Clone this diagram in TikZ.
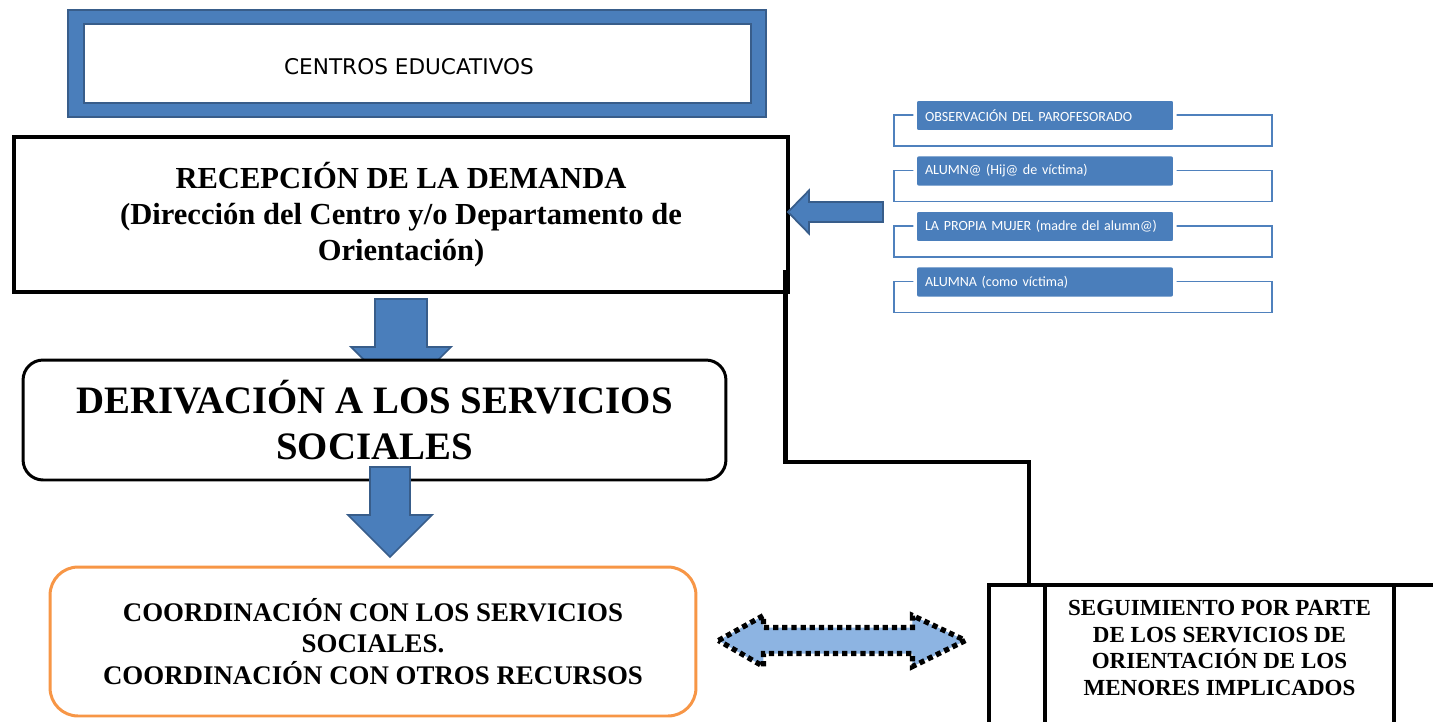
\documentclass[tikz,border=0pt]{standalone}
\usepackage{fontspec}
\setmainfont{Liberation Serif}
\newfontfamily\verdanafont{DejaVu Sans}
\newfontfamily\calibrifont{Carlito}
\usepackage{tikz}
\usetikzlibrary{calc}
\definecolor{offblue}{HTML}{4A7EBB}
\definecolor{darkblue}{HTML}{385D8A}
\definecolor{lineblue}{HTML}{4F81BD}
\definecolor{lightblue}{HTML}{8DB4E2}
\definecolor{orangebox}{HTML}{F79646}
\newcommand{\fs}[2]{\fontsize{#1}{#2}\selectfont}

\begin{document}
\begin{tikzpicture}[x=0.02cm, y=-0.02cm,
    every node/.style={inner sep=0pt, outer sep=0pt},
    bigbox/.style={draw=black, line width=2.2pt, fill=white, align=center, font=\bfseries},
    blockarrow/.style={fill=offblue, draw=darkblue, line width=1pt, line join=miter},
    dotarrow/.style={fill=lightblue, draw=black, line width=3pt, dash pattern=on 3pt off 2.2pt},
    connector/.style={draw=black, line width=2.8pt},
    itemback/.style={draw=lineblue, line width=1.1pt, minimum width=7.56cm, minimum height=0.62cm},
    itembox/.style={fill=offblue, draw=white, line width=2pt, rounded corners=2pt,
      minimum width=5.2cm, minimum height=0.66cm, text width=4.8cm, align=left,
      text=white, font=\calibrifont\fs{8}{9}},
    cell/.style={draw=black, line width=2.2pt, minimum height=3.9cm}]
  \useasboundingbox (0,0) rectangle (1433,721);

  \node[fill=offblue, draw=darkblue, line width=1.4pt, minimum width=13.96cm, minimum height=2.14cm] (centros-frame) at (417,63.5) {};
  \node[fill=white, draw=darkblue, line width=1.2pt, minimum width=13.34cm, minimum height=1.58cm] (centros-box) at (417.5,63.5) {};
  \node[font=\verdanafont\fs{12.3}{14}] (centros) at (409,67) {CENTROS EDUCATIVOS};

  \node[bigbox, minimum width=15.48cm, minimum height=3.1cm, font=\bfseries\fs{17.4}{20.4}] (recep) at (401,214.5)
    {RECEPCIÓN DE LA DEMANDA\\(Dirección del Centro y/o Departamento de\\Orientación)};

  % arrow under the first box, partly hidden
  \begin{scope}[shift={(recep.south)}]
    \draw[blockarrow] (-26,7) -- (26,7) -- (26,55) -- (50,55) -- (0,105) -- (-50,55) -- (-26,55) -- cycle;
  \end{scope}

  \node[bigbox, rounded corners=0.4cm, line width=1.7pt, minimum width=14.06cm, minimum height=2.4cm,
    font=\bfseries\fs{22.1}{26}] (deriv) at (374.5,420) {DERIVACIÓN A LOS SERVICIOS\\SOCIALES};

  \node[bigbox, draw=orangebox, rounded corners=0.56cm, line width=1.7pt, minimum width=12.92cm, minimum height=2.98cm,
    font=\bfseries\fs{15.3}{17.9}] (coord) at (373,641.5)
    {COORDINACIÓN CON LOS SERVICIOS\\SOCIALES.\\COORDINACIÓN CON OTROS RECURSOS};

  \begin{scope}[shift={($(deriv.south)+(15.5,0)$)}]
    \draw[blockarrow] (-20,-13) -- (20,-13) -- (20,35) -- (42,35) -- (0,77) -- (-42,35) -- (-20,35) -- cycle;
  \end{scope}

  % table on the right
  \node[cell, minimum width=1.12cm] (cell-l) at (1017,682.5) {};
  \node[cell, minimum width=6.98cm] (cell-m) at (1219.5,682.5) {};
  \node[cell, minimum width=1.32cm] (cell-r) at (1427,682.5) {};
  \node[align=center, font=\bfseries\fs{13.1}{15.1}] (seguim) at (1219.5,648)
    {SEGUIMIENTO POR PARTE\\DE LOS SERVICIOS DE\\ORIENTACIÓN DE LOS\\MENORES IMPLICADOS};

  \begin{scope}[shift={($(coord.east)!0.5!(cell-l.west |- coord.east)$)}]
    \draw[dotarrow] (-124,-1) -- (-79,-26) -- (-79,-14) -- (70,-14) -- (70,-26) -- (123,-1)
      -- (70,25) -- (70,12) -- (-79,12) -- (-79,25) -- cycle;
  \end{scope}

  \coordinate (c-start) at ($(recep.south east)+(-2,-22)$);
  \coordinate (c-mid) at (1029,462);
  \draw[connector] (c-start) |- (c-mid) -- (c-mid |- cell-l.north);

  % list of sources
  \node[itemback] (obs-back) at (1083,130.5) {};
  \node[itemback] (hijo-back) at (1083,186) {};
  \node[itemback] (madre-back) at (1083,241.5) {};
  \node[itemback] (alumna-back) at (1083,297) {};
  \node[itembox] (obs) at (1045,115.5) {OBSERVACIÓN DEL PAROFESORADO};
  \node[itembox] (hijo) at (1045,171) {ALUMN@ (Hij@ de víctima)};
  \node[itembox] (madre) at (1045,226.5) {LA PROPIA MUJER (madre del alumn@)};
  \node[itembox] (alumna) at (1045,282) {ALUMNA (como víctima)};

  \begin{scope}[shift={(recep.east)}]
    \draw[blockarrow] (0,-2.5) -- (21,-24) -- (21,-12.5) -- (95,-12.5) -- (95,7.5) -- (21,7.5) -- (21,19) -- cycle;
  \end{scope}
\end{tikzpicture}
\end{document}
